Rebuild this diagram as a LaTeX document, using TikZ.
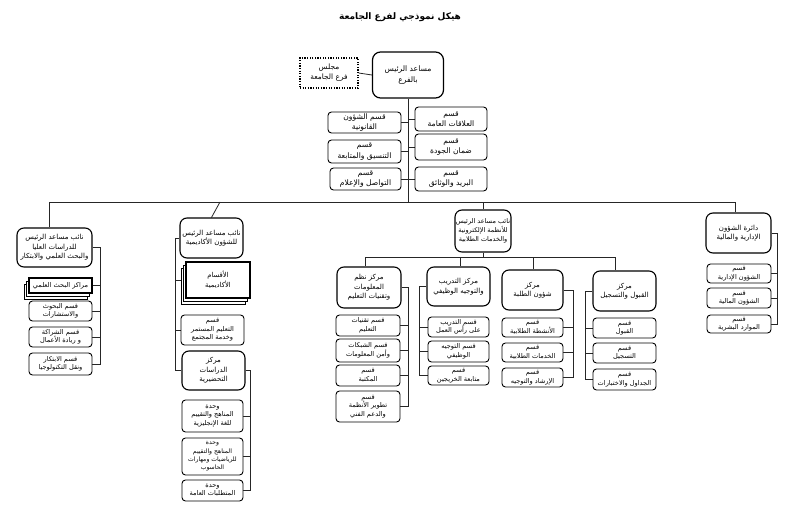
\documentclass[tikz,border=0pt]{standalone}
\usepackage{fontspec}
\newfontfamily\arfont[Script=Arabic]{DejaVu Sans}
\TeXXeTstate=1
\usetikzlibrary{backgrounds}
\newcommand{\AR}[1]{\beginR #1\endR}
\begin{document}
\begin{tikzpicture}[x=1pt,y=-1pt,
  box/.style={draw=black, line width=0.9pt, rounded corners=3.5pt, fill=white, align=center, inner sep=0.5pt, font=\arfont\fontsize{6.6}{8.5}\selectfont},
  topbox/.style={box, font=\arfont\fontsize{7.6}{10.5}\selectfont},
  headbox/.style={box, rounded corners=7pt, line width=1.1pt, font=\arfont\fontsize{7}{9.5}\selectfont},
  mainbox/.style={box, rounded corners=8pt, line width=1.2pt, font=\arfont\fontsize{7.6}{11}\selectfont},
  council/.style={draw=black, line width=1.3pt, dash pattern=on 1.2pt off 1.4pt, fill=white, align=center, inner sep=0.5pt, font=\arfont\fontsize{7.4}{10}\selectfont},
  docbox/.style={draw=black, line width=1.3pt, fill=white, align=center, inner sep=0.5pt, font=\arfont\fontsize{6.8}{9.5}\selectfont},
  docback/.style={draw=black, line width=0.5pt, fill=white},
  conn/.style={draw=black!85, line width=0.8pt},
  titl/.style={font=\arfont\bfseries\fontsize{9}{11}\selectfont}
]
\useasboundingbox (0,0) rectangle (800,508);

\node[titl] (title) at (400,17) {\AR{هيكل نموذجي لفرع الجامعة}};

\node[council, minimum width=58, minimum height=30] (council) at (329,73) {\AR{مجلس}\\\AR{فرع الجامعة}};
\node[mainbox, minimum width=71, minimum height=46] (main) at (408,75) {\AR{مساعد الرئيس}\\\AR{بالفرع}};

\node[topbox, minimum width=72, minimum height=24] (R1) at (451,119) {\AR{قسم}\\\AR{العلاقات العامة}};
\node[topbox, minimum width=72, minimum height=26] (R2) at (451,147) {\AR{قسم}\\\AR{ضمان الجودة}};
\node[topbox, minimum width=72, minimum height=24] (R3) at (451,179) {\AR{قسم}\\\AR{البريد والوثائق}};
\node[topbox, minimum width=73, minimum height=21] (L1) at (364.5,122.5) {\AR{قسم الشؤون}\\\AR{القانونية}};
\node[topbox, minimum width=73, minimum height=23] (L2) at (364.5,151.5) {\AR{قسم}\\\AR{التنسيق والمتابعة}};
\node[topbox, minimum width=71, minimum height=22] (L3) at (365.5,179) {\AR{قسم}\\\AR{التواصل والإعلام}};

% branch 1
\node[headbox, minimum width=75, minimum height=39] (B1) at (54.5,247.5) {\AR{نائب مساعد الرئيس}\\\AR{للدراسات العليا}\\\AR{والبحث العلمي والابتكار}};
\node[docback, minimum width=63, minimum height=15] (s11bb) at (55.5,291.5) {};
\node[docback, minimum width=63, minimum height=15] (s11b) at (58,288.5) {};
\node[docbox, minimum width=63, minimum height=15, font=\arfont\fontsize{6.6}{8}\selectfont] (s11) at (60.5,285.5) {\AR{مراكز البحث العلمي}};
\node[box, minimum width=63, minimum height=20] (s12) at (60.5,311) {\AR{قسم البحوث}\\\AR{والاستشارات}};
\node[box, minimum width=63, minimum height=20] (s13) at (60.5,337) {\AR{قسم الشراكة}\\\AR{و ريادة الأعمال}};
\node[box, minimum width=63, minimum height=22] (s14) at (60.5,364) {\AR{قسم الابتكار}\\\AR{ونقل التكنولوجيا}};

% branch 2
\node[headbox, minimum width=63, minimum height=40] (B2) at (211.5,238) {\AR{نائب مساعد الرئيس}\\\AR{للشؤون الأكاديمية}};
\node[docback, minimum width=64, minimum height=36] (s21bb) at (213,286) {};
\node[docback, minimum width=64, minimum height=36] (s21b) at (215.5,283) {};
\node[docbox, minimum width=64, minimum height=36] (s21) at (218,280) {\AR{الأقسام}\\\AR{الأكاديمية}};
\node[box, minimum width=63, minimum height=30] (s22) at (212.5,330) {\AR{قسم}\\\AR{التعليم المستمر}\\\AR{وخدمة المجتمع}};
\node[headbox, minimum width=63, minimum height=39] (s23) at (213.5,370.5) {\AR{مركز}\\\AR{الدراسات}\\\AR{التحضيرية}};
\node[box, minimum width=61, minimum height=32] (u1) at (212.5,416) {\AR{وحدة}\\\AR{المناهج والتقييم}\\\AR{للغة الإنجليزية}};
\node[box, minimum width=61, minimum height=37, font=\arfont\fontsize{6.1}{8.3}\selectfont] (u2) at (212.5,456.5) {\AR{وحدة}\\\AR{المناهج والتقييم}\\\AR{للرياضيات ومهارات}\\\AR{الحاسوب}};
\node[box, minimum width=61, minimum height=21] (u3) at (212.5,490.5) {\AR{وحدة}\\\AR{المتطلبات العامة}};

% branch 3
\node[headbox, minimum width=56, minimum height=42, font=\arfont\fontsize{6.5}{9}\selectfont] (B3) at (483,231) {\AR{نائب مساعد الرئيس}\\\AR{للأنظمة الإلكترونية}\\\AR{والخدمات الطلابية}};
\node[headbox, minimum width=64, minimum height=41] (a) at (369,287.5) {\AR{مركز نظم}\\\AR{المعلومات}\\\AR{وتقنيات التعليم}};
\node[box, minimum width=64, minimum height=21] (a1) at (368,325.5) {\AR{قسم تقنيات}\\\AR{التعليم}};
\node[box, minimum width=64, minimum height=23] (a2) at (368,350.5) {\AR{قسم الشبكات}\\\AR{وأمن المعلومات}};
\node[box, minimum width=64, minimum height=21] (a3) at (368,375.5) {\AR{قسم}\\\AR{المكتبة}};
\node[box, minimum width=64, minimum height=31] (a4) at (368,406.5) {\AR{قسم}\\\AR{تطوير الأنظمة}\\\AR{والدعم الفني}};
\node[headbox, minimum width=63, minimum height=39] (b) at (458.5,286.5) {\AR{مركز التدريب}\\\AR{والتوجيه الوظيفي}};
\node[box, minimum width=61, minimum height=20] (b1) at (458.5,327) {\AR{قسم التدريب}\\\AR{على رأس العمل}};
\node[box, minimum width=61, minimum height=21] (b2) at (458.5,351.5) {\AR{قسم التوجيه}\\\AR{الوظيفي}};
\node[box, minimum width=61, minimum height=19] (b3) at (458.5,375.5) {\AR{قسم}\\\AR{متابعة الخريجين}};
\node[headbox, minimum width=61, minimum height=40] (c) at (532.5,290) {\AR{مركز}\\\AR{شؤون الطلبة}};
\node[box, minimum width=61, minimum height=19] (c1) at (532.5,327.5) {\AR{قسم}\\\AR{الأنشطة الطلابية}};
\node[box, minimum width=61, minimum height=19] (c2) at (532.5,352.5) {\AR{قسم}\\\AR{الخدمات الطلابية}};
\node[box, minimum width=61, minimum height=19] (c3) at (532.5,377.5) {\AR{قسم}\\\AR{الإرشاد والتوجيه}};
\node[headbox, minimum width=63, minimum height=40] (d) at (624.5,291) {\AR{مركز}\\\AR{القبول والتسجيل}};
\node[box, minimum width=63, minimum height=20] (d1) at (624.5,328) {\AR{قسم}\\\AR{القبول}};
\node[box, minimum width=63, minimum height=20] (d2) at (624.5,353) {\AR{قسم}\\\AR{التسجيل}};
\node[box, minimum width=63, minimum height=21] (d3) at (624.5,379.5) {\AR{قسم}\\\AR{الجداول والاختبارات}};

% branch 4
\node[headbox, minimum width=65, minimum height=40] (e) at (738.5,233) {\AR{دائرة الشؤون}\\\AR{الإدارية والمالية}};
\node[box, minimum width=64, minimum height=19] (e1) at (739,273.5) {\AR{قسم}\\\AR{الشؤون الإدارية}};
\node[box, minimum width=64, minimum height=20] (e2) at (739,298) {\AR{قسم}\\\AR{الشؤون المالية}};
\node[box, minimum width=64, minimum height=18] (e3) at (739,324) {\AR{قسم}\\\AR{الموارد البشرية}};

% coordinates
\coordinate (trunk) at (408,202);
\coordinate (barL) at (49,202);
\coordinate (barR) at (735,202);
\coordinate (d2x) at (220,202);
\coordinate (d3x) at (483,202);
\coordinate (sbL) at (365,257);
\coordinate (sbR) at (615,257);
\coordinate (sbB) at (460,257);
\coordinate (sbC) at (533,257);
\coordinate (k1) at (100,0);
\coordinate (k2) at (175,0);
\coordinate (k3) at (250,0);
\coordinate (ka) at (408,0);
\coordinate (kb) at (419,0);
\coordinate (kc) at (573,0);
\coordinate (kd) at (585,0);
\coordinate (ke) at (777,0);

\begin{pgfonlayer}{background}
\fill[white] (0,0) rectangle (800,508);
\draw[conn] (council.east) -- (main.west);
\draw[conn] (main.south) -- (trunk);
\foreach \n in {L1,L2,L3} \draw[conn] (\n.east) -- (\n.east -| trunk);
\foreach \n in {R1,R2,R3} \draw[conn] (\n.west) -- (\n.west -| trunk);
\draw[conn] (barL) -- (barR);
\draw[conn] (barL) -- (barL |- B1.north);
\draw[conn] (d2x) -- (B2.north);
\draw[conn] (d3x) -- (B3.north);
\draw[conn] (barR) -- (barR |- e.north);
% branch 1
\draw[conn] (B1.east) -- (B1.east -| k1) -- (k1 |- s14.east) -- (s14.east);
\foreach \n in {s11,s12,s13} \draw[conn] (\n.east) -- (\n.east -| k1);
% branch 2
\draw[conn] (B2.west) -- (B2.west -| k2) -- (k2 |- s23.west) -- (s23.west);
\foreach \n in {s21,s22} \draw[conn] (\n.west) -- (\n.west -| k2);
\draw[conn] (s23.east) -- (s23.east -| k3) -- (k3 |- u3.east) -- (u3.east);
\foreach \n in {u1,u2} \draw[conn] (\n.east) -- (\n.east -| k3);
% branch 3
\draw[conn] (B3.south) -- (B3.south |- sbL);
\draw[conn] (sbL) -- (sbR);
\draw[conn] (sbL) -- (sbL |- a.north);
\draw[conn] (sbB) -- (sbB |- b.north);
\draw[conn] (sbC) -- (sbC |- c.north);
\draw[conn] (sbR) -- (sbR |- d.north);
\draw[conn] (a.east) -- (a.east -| ka) -- (ka |- a4.east) -- (a4.east);
\foreach \n in {a1,a2,a3} \draw[conn] (\n.east) -- (\n.east -| ka);
\draw[conn] (b.west) -- (b.west -| kb) -- (kb |- b3.west) -- (b3.west);
\foreach \n in {b1,b2} \draw[conn] (\n.west) -- (\n.west -| kb);
\draw[conn] (c.east) -- (c.east -| kc) -- (kc |- c3.east) -- (c3.east);
\foreach \n in {c1,c2} \draw[conn] (\n.east) -- (\n.east -| kc);
\draw[conn] (d.west) -- (d.west -| kd) -- (kd |- d3.west) -- (d3.west);
\foreach \n in {d1,d2} \draw[conn] (\n.west) -- (\n.west -| kd);
% branch 4
\draw[conn] (e.east) -- (e.east -| ke) -- (ke |- e3.east) -- (e3.east);
\foreach \n in {e1,e2} \draw[conn] (\n.east) -- (\n.east -| ke);
\end{pgfonlayer}
\end{tikzpicture}
\end{document}
